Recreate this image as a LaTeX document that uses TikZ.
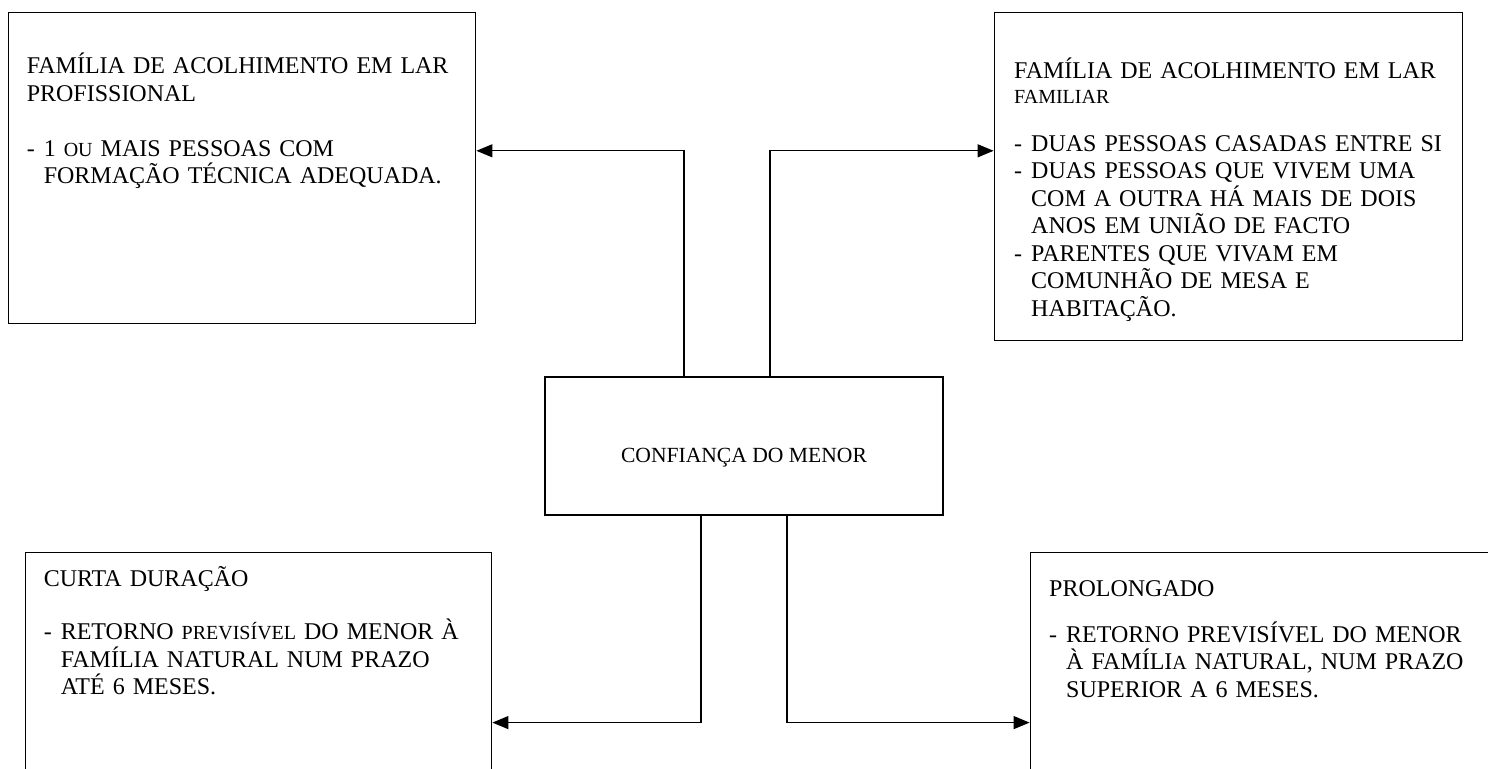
\documentclass[tikz,border=0pt]{standalone}
\usepackage{fontspec}
\setmainfont{Liberation Serif}
\usepackage{tikz}
\usetikzlibrary{positioning}
\usetikzlibrary{arrows.meta}

\newcommand{\smc}[1]{{\fontsize{10}{11}\selectfont #1}}
\newcommand{\trav}{\makebox[8.5pt][l]{-}}
\newcommand{\recuo}{\hspace*{8.5pt}}

\tikzset{
  caixa/.style={draw, line width=0.6pt, align=left, inner ysep=0pt, inner xsep=9pt,
    font=\fontsize{12}{13.75}\selectfont},
  seta/.style={draw, line width=0.6pt, -{Triangle[length=8pt,width=6.5pt]}},
}

\begin{document}
\begin{tikzpicture}

    \path[use as bounding box, clip] (0,0) rectangle (744pt,-384.5pt) ; %

    \node[caixa, align=center, inner sep=0pt, minimum width=199pt, minimum height=69pt,
      font=\fontsize{10.8}{12.5}\selectfont,
      text height=17pt, text depth=0pt] (conf) at (372pt,-223pt) {CONFIANÇA DO MENOR} ; %

    \node[caixa, text width=215.5pt, text height=30.5pt, text depth=125pt,
      above left=26pt and 34pt of conf] (prof) {%
      FAMÍLIA DE ACOLHIMENTO EM LAR\\
      PROFISSIONAL\\[13.75pt]
      \trav 1 \smc{OU} MAIS PESSOAS COM\\
      \recuo FORMAÇÃO TÉCNICA ADEQUADA.} ; %

    \node[caixa, inner xsep=10pt, text width=214pt, text height=33pt, text depth=131pt,
      above right=17.5pt and 25pt of conf] (fam) {%
      FAMÍLIA DE ACOLHIMENTO EM LAR\\[-1.5pt]
      \smc{FAMILIAR}\\[10.25pt]
      \trav DUAS PESSOAS CASADAS ENTRE SI\\
      \trav DUAS PESSOAS QUE VIVEM UMA\\
      \recuo COM A OUTRA HÁ MAIS DE DOIS\\
      \recuo ANOS EM UNIÃO DE FACTO\\
      \trav PARENTES QUE VIVAM EM\\
      \recuo COMUNHÃO DE MESA E\\
      \recuo HABITAÇÃO.} ; %

    \node[caixa, text width=215pt, text height=17pt, text depth=133pt,
      below left=18pt and 26pt of conf] (curta) {%
      CURTA DURAÇÃO\\[13pt]
      \trav RETORNO \smc{PREVISÍVEL} DO MENOR À\\
      \recuo FAMÍLIA NATURAL NUM PRAZO\\
      \recuo ATÉ 6 MESES.} ; %

    \node[caixa, inner xsep=9.5pt, text width=214pt, text height=22pt, text depth=128pt,
      below right=18pt and 43pt of conf] (prol) {%
      PROLONGADO\\[9.25pt]
      \trav RETORNO PREVISÍVEL DO MENOR\\
      \recuo À FAMÍLI\smc{A} NATURAL, NUM PRAZO\\
      \recuo SUPERIOR A 6 MESES.} ; %

    \draw[seta] ([xshift=-30pt]conf.north) |- ([yshift=8.75pt]prof.east) ; %
    \draw[seta] ([xshift=13pt]conf.north) |- ([yshift=13pt]fam.west) ; %
    \draw[seta] ([xshift=-21.5pt]conf.south) |- ([yshift=-85.5pt]curta.north east) ; %
    \draw[seta] ([xshift=21.5pt]conf.south) |- ([yshift=-85.5pt]prol.north west) ; %

\end{tikzpicture}
\end{document}
